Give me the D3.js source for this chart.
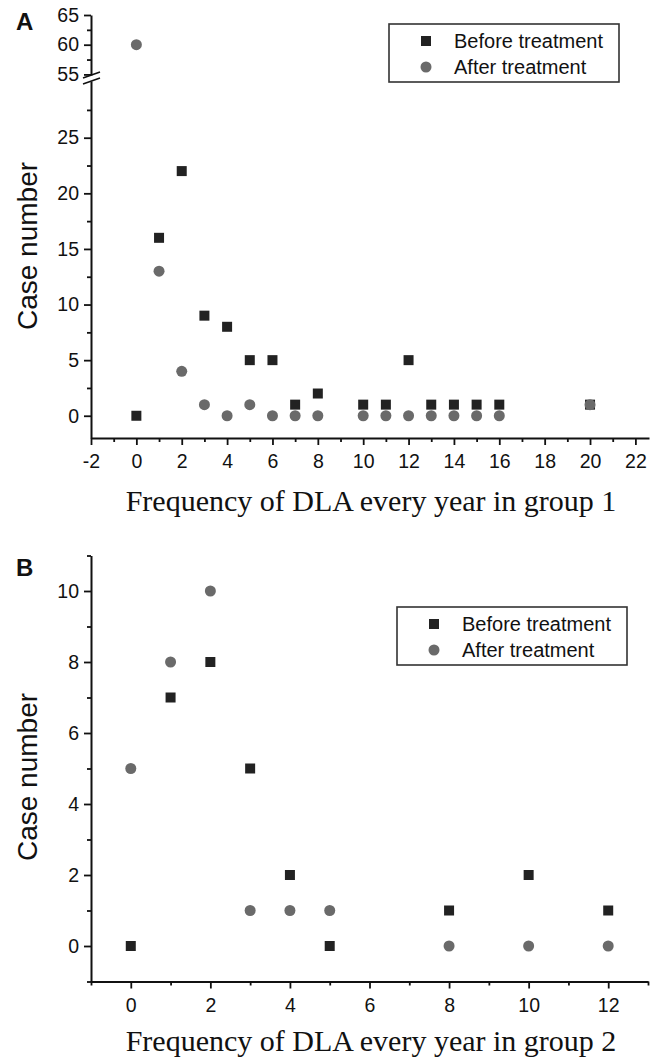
<!DOCTYPE html>
<html>
<head>
<meta charset="utf-8">
<script src="https://cdn.jsdelivr.net/npm/d3@7"></script>
<style>
  body { margin: 0; background: #fff; }
  svg { display: block; }
  .axis path, .axis line { stroke: #111; }
  .axis path { stroke-width: 2; }
  .axis line { stroke-width: 1.8; }
  .axis text { font-family: "Liberation Sans", Arial, sans-serif; font-size: 19.5px; fill: #111; }
</style>
</head>
<body>
<div class="container"></div>
<script>
// panel A (group 1)
var freqA = [0, 1, 2, 3, 4, 5, 6, 7, 8, 10, 11, 12, 13, 14, 15, 16, 20];
var beforeA = [0, 16, 22, 9, 8, 5, 5, 1, 2, 1, 1, 5, 1, 1, 1, 1, 1];
var afterA = [60, 13, 4, 1, 0, 1, 0, 0, 0, 0, 0, 0, 0, 0, 0, 0, 1];
var xTicksA = [-2, 0, 2, 4, 6, 8, 10, 12, 14, 16, 18, 20, 22];
var yTicksLowA = [0, 5, 10, 15, 20, 25];
var yTicksHighA = [55, 60, 65];

// panel B (group 2)
var freqB = [0, 1, 2, 3, 4, 5, 8, 10, 12];
var beforeB = [0, 7, 8, 5, 2, 0, 1, 2, 1];
var afterB = [5, 8, 10, 1, 1, 1, 0, 0, 0];
var xTicksB = [0, 2, 4, 6, 8, 10, 12];
var yTicksB = [0, 2, 4, 6, 8, 10];

var seriesNames = ['Before treatment', 'After treatment'];

var drawChart = function () {
    var WIDTH = 657, HEIGHT = 1057;
    var SQ_COLOR = '#222', CI_COLOR = '#6a6a6a';
    var MAJOR = 7, MINOR = 4;
    var plain = function (d) { return String(d); };   // keep the hyphen in "-2"

    var svg = d3.select('.container').append('svg')
        .attr('width', WIDTH)
        .attr('height', HEIGHT);

    function minorBetween(ticks, step) {
        var out = [];
        ticks.forEach(function (t) { out.push(t + step / 2); });
        return out;
    }

    function drawMarkers(g, xs, ys, xScale, yFn) {
        g.selectAll('rect.sq').data(xs).enter().append('rect')
            .attr('class', 'sq')
            .attr('x', function (d) { return xScale(d) - 5; })
            .attr('y', function (d, i) { return yFn(ys.before[i]) - 5; })
            .attr('width', 10).attr('height', 10)
            .attr('fill', SQ_COLOR);
        g.selectAll('circle.ci').data(xs).enter().append('circle')
            .attr('class', 'ci')
            .attr('cx', function (d) { return xScale(d); })
            .attr('cy', function (d, i) { return yFn(ys.after[i]); })
            .attr('r', 5.5)
            .attr('fill', CI_COLOR);
    }

    function drawLegend(x, y) {
        var g = svg.append('g').attr('transform', 'translate(' + x + ',' + y + ')');
        g.append('rect').attr('width', 230).attr('height', 58)
            .attr('fill', '#fff').attr('stroke', '#333').attr('stroke-width', 1.6);
        g.append('rect').attr('x', 32).attr('y', 12).attr('width', 10).attr('height', 10).attr('fill', SQ_COLOR);
        g.append('circle').attr('cx', 37).attr('cy', 43).attr('r', 5.5).attr('fill', CI_COLOR);
        g.selectAll('text').data(seriesNames).enter().append('text')
            .attr('x', 65)
            .attr('y', function (d, i) { return 24 + i * 26; })
            .style('font-family', '"Liberation Sans", Arial, sans-serif')
            .style('font-size', '20px')
            .attr('fill', '#111')
            .text(function (d) { return d; });
    }

    function xTitle(text, y) {
        svg.append('text')
            .attr('x', 371).attr('y', y)
            .attr('text-anchor', 'middle')
            .style('font-family', '"Liberation Serif", "Times New Roman", serif')
            .style('font-size', '30px')
            .attr('fill', '#111')
            .text(text);
    }

    function yTitle(cy) {
        svg.append('text')
            .attr('transform', 'translate(37,' + cy + ') rotate(-90)')
            .attr('text-anchor', 'middle')
            .style('font-family', '"Liberation Sans", Arial, sans-serif')
            .style('font-size', '28px')
            .attr('fill', '#111')
            .text('Case number');
    }

    function panelLetter(t, y) {
        svg.append('text').attr('x', 16).attr('y', y)
            .style('font-family', '"Liberation Sans", Arial, sans-serif')
            .style('font-size', '24px').style('font-weight', 'bold')
            .attr('fill', '#111').text(t);
    }

    // ---------- panel A ----------
    var X0 = 91;
    var xA = d3.scaleLinear().domain([-2, 22.6]).range([X0, 649]);
    var yLowA = d3.scaleLinear().domain([-2, 30.1]).range([438, 81]);
    var yHighA = d3.scaleLinear().domain([54.9, 65]).range([75, 15]);
    var yA = function (v) { return v > 40 ? yHighA(v) : yLowA(v); };

    // x axis
    svg.append('g').attr('class', 'axis')
        .attr('transform', 'translate(0,' + 438 + ')')
        .call(d3.axisBottom(xA).tickValues(xTicksA).tickFormat(plain).tickSize(MAJOR).tickSizeOuter(0).tickPadding(9));
    svg.append('g').attr('class', 'axis')
        .attr('transform', 'translate(0,' + 438 + ')')
        .call(d3.axisBottom(xA).tickValues(minorBetween(xTicksA.slice(0, -1), 2)).tickSize(MINOR).tickFormat(''))
        .select('.domain').remove();

    // y axis, lower part
    svg.append('g').attr('class', 'axis')
        .attr('transform', 'translate(' + X0 + ',0)')
        .call(d3.axisLeft(yLowA).tickValues(yTicksLowA).tickSize(MAJOR).tickSizeOuter(0).tickPadding(5));
    svg.append('g').attr('class', 'axis')
        .attr('transform', 'translate(' + X0 + ',0)')
        .call(d3.axisLeft(yLowA).tickValues(minorBetween(yTicksLowA, 5)).tickSize(MINOR).tickFormat(''))
        .select('.domain').remove();

    // y axis, upper part
    svg.append('g').attr('class', 'axis')
        .attr('transform', 'translate(' + X0 + ',0)')
        .call(d3.axisLeft(yHighA).tickValues(yTicksHighA).tickSize(MAJOR).tickSizeOuter(0).tickPadding(5));
    svg.append('g').attr('class', 'axis')
        .attr('transform', 'translate(' + X0 + ',0)')
        .call(d3.axisLeft(yHighA).tickValues(minorBetween(yTicksHighA.slice(0, -1), 5)).tickSize(MINOR).tickFormat(''))
        .select('.domain').remove();

    // break marks
    [75, 81].forEach(function (by) {
        svg.append('line')
            .attr('x1', X0 - 8).attr('y1', by + 3)
            .attr('x2', X0 + 9).attr('y2', by - 3)
            .attr('stroke', '#111').attr('stroke-width', 1.6);
    });

    drawMarkers(svg.append('g'), freqA, {before: beforeA, after: afterA}, xA, yA);
    drawLegend(389, 24);
    xTitle('Frequency of DLA every year in group 1', 511);
    yTitle(246);
    panelLetter('A', 30);

    // ---------- panel B ----------
    var xB = d3.scaleLinear().domain([-1, 13]).range([X0, 648]);
    var yB = d3.scaleLinear().domain([-1, 11]).range([981.5, 555.5]);

    svg.append('g').attr('class', 'axis')
        .attr('transform', 'translate(0,' + 981.5 + ')')
        .call(d3.axisBottom(xB).tickValues(xTicksB).tickFormat(plain).tickSize(MAJOR).tickSizeOuter(0).tickPadding(10));
    svg.append('g').attr('class', 'axis')
        .attr('transform', 'translate(0,' + 981.5 + ')')
        .call(d3.axisBottom(xB).tickValues([-1].concat(minorBetween(xTicksB, 2))).tickSize(MINOR).tickFormat(''))
        .select('.domain').remove();

    svg.append('g').attr('class', 'axis')
        .attr('transform', 'translate(' + X0 + ',0)')
        .call(d3.axisLeft(yB).tickValues(yTicksB).tickSize(MAJOR).tickSizeOuter(0).tickPadding(5));
    svg.append('g').attr('class', 'axis')
        .attr('transform', 'translate(' + X0 + ',0)')
        .call(d3.axisLeft(yB).tickValues([-1].concat(minorBetween(yTicksB, 2))).tickSize(MINOR).tickFormat(''))
        .select('.domain').remove();

    drawMarkers(svg.append('g'), freqB, {before: beforeB, after: afterB}, xB, yB);
    drawLegend(397, 607);
    xTitle('Frequency of DLA every year in group 2', 1051);
    yTitle(777);
    panelLetter('B', 576);
};

window.onload = drawChart;
</script>
</body>
</html>
